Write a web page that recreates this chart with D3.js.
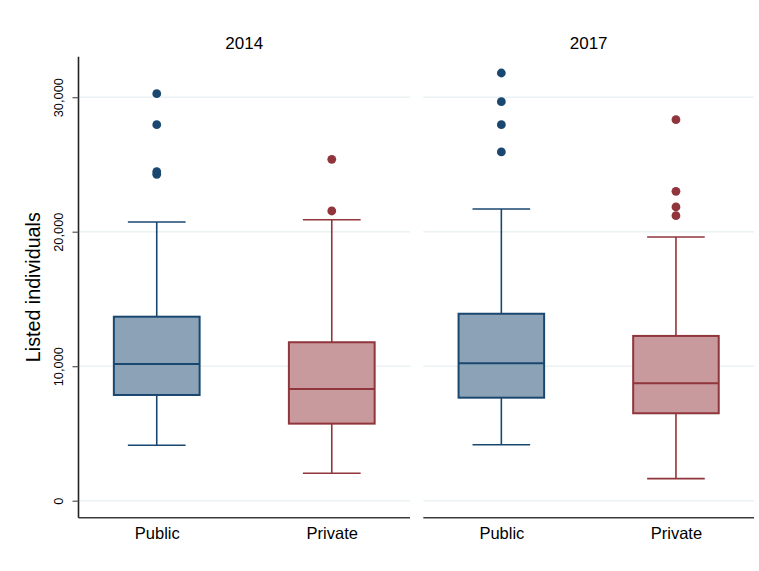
<!DOCTYPE html>
<html>
<head>
<meta charset="utf-8">
<script src="https://cdn.jsdelivr.net/npm/d3@7/dist/d3.min.js"></script>
<style>
  html, body { margin: 0; padding: 0; background: #fff; }
  svg { display: block; font-family: "Liberation Sans", Arial, sans-serif; }
</style>
</head>
<body>
<svg id="chart" width="759" height="571"></svg>
<script>
// Listed individuals by sector, two survey years
const years = ["2014", "2017"];
const sectors = ["Public", "Private"];
const lowerWhisker  = [[4120, 2040],  [4160, 1640]];
const lowerQuartile = [[7860, 5730],  [7660, 6500]];
const medians       = [[10160, 8310], [10220, 8730]];
const upperQuartile = [[13680, 11780],[13900, 12250]];
const upperWhisker  = [[20720, 20890],[21690, 19610]];
const outliers = [
  [[30260, 27960, 24460, 24270], [25380, 21540]],
  [[31800, 29670, 27960, 25930], [28330, 23000, 21840, 21190]]
];
const yTicks = [0, 10000, 20000, 30000];

const strokeColors = { Public: "#1a476f", Private: "#90353b" };
const fillColors   = { Public: "#8ca3b7", Private: "#c89a9d" };

const svg = d3.select("#chart");
const plotTop = 56.7, plotBottom = 517.7;
const panels = [[78.5, 410], [423.3, 754]];

const y = d3.scaleLinear().domain([-1264, 33011]).range([plotBottom, plotTop]);

panels.forEach((range, pi) => {
  const x = d3.scalePoint().domain(sectors).range(range).padding(0.447);
  const step = x.step();
  const boxW = step * 0.49, capW = step * 0.33;
  const g = svg.append("g");

  // gridlines
  g.selectAll("line.grid").data(yTicks).join("line")
    .attr("class", "grid")
    .attr("x1", range[0]).attr("x2", range[1])
    .attr("y1", d => y(d)).attr("y2", d => y(d))
    .attr("stroke", "#eaf2f3").attr("stroke-width", 1.5);

  // panel title
  g.append("text")
    .attr("x", (range[0] + range[1]) / 2).attr("y", 49)
    .attr("text-anchor", "middle").style("font-size", "17px")
    .attr("fill", "#000").text(years[pi]);

  // boxes
  sectors.forEach((s, si) => {
    const cx = x(s);
    const sc = strokeColors[s];
    const bg = g.append("g");
    // whiskers
    bg.append("line").attr("x1", cx).attr("x2", cx)
      .attr("y1", y(upperWhisker[pi][si])).attr("y2", y(upperQuartile[pi][si]))
      .attr("stroke", sc).attr("stroke-width", 1.6);
    bg.append("line").attr("x1", cx).attr("x2", cx)
      .attr("y1", y(lowerQuartile[pi][si])).attr("y2", y(lowerWhisker[pi][si]))
      .attr("stroke", sc).attr("stroke-width", 1.6);
    [upperWhisker[pi][si], lowerWhisker[pi][si]].forEach(v => {
      bg.append("line").attr("x1", cx - capW / 2).attr("x2", cx + capW / 2)
        .attr("y1", y(v)).attr("y2", y(v))
        .attr("stroke", sc).attr("stroke-width", 1.6);
    });
    // box
    bg.append("rect")
      .attr("x", cx - boxW / 2).attr("width", boxW)
      .attr("y", y(upperQuartile[pi][si]))
      .attr("height", y(lowerQuartile[pi][si]) - y(upperQuartile[pi][si]))
      .attr("fill", fillColors[s]).attr("stroke", sc).attr("stroke-width", 2);
    // median
    bg.append("line").attr("x1", cx - boxW / 2).attr("x2", cx + boxW / 2)
      .attr("y1", y(medians[pi][si])).attr("y2", y(medians[pi][si]))
      .attr("stroke", sc).attr("stroke-width", 2);
    // outside values
    bg.selectAll("circle").data(outliers[pi][si]).join("circle")
      .attr("cx", cx).attr("cy", d => y(d)).attr("r", 4.4)
      .attr("fill", sc);
  });

  // bottom axis
  const xAxis = g.append("g").attr("transform", `translate(0,${plotBottom})`)
    .call(d3.axisBottom(x).tickSize(0).tickPadding(0));
  xAxis.attr("font-family", null).attr("font-size", null);
  xAxis.select(".domain").attr("stroke", "#3c3c3c").attr("stroke-width", 1.6)
    .attr("d", `M${range[0]},0H${range[1]}`);
  xAxis.selectAll("text").style("font-size", "16.5px").attr("fill", "#000")
    .attr("dy", null).attr("y", 21.3);

  if (pi === 0) {
    const yAxis = g.append("g").attr("transform", `translate(${range[0]},0)`)
      .call(d3.axisLeft(y).tickValues(yTicks).tickFormat(d3.format(",")).tickSize(6).tickPadding(0));
    yAxis.attr("font-family", null).attr("font-size", null);
    yAxis.select(".domain").attr("stroke", "#222").attr("stroke-width", 1.6)
      .attr("d", `M0,${plotTop}V${plotBottom}`);
    yAxis.selectAll(".tick line").attr("stroke", "#555").attr("stroke-width", 1.2);
    yAxis.selectAll(".tick text")
      .style("font-size", "12.8px").attr("fill", "#000")
      .attr("x", null).attr("dy", null)
      .attr("text-anchor", "middle")
      .attr("transform", "translate(-15.5,0) rotate(-90)");
  }
});

// y axis title
svg.append("text")
  .attr("transform", `translate(40,${(plotTop + plotBottom) / 2}) rotate(-90)`)
  .attr("text-anchor", "middle").style("font-size", "19.7px").attr("fill", "#000")
  .text("Listed individuals");
</script>
</body>
</html>
